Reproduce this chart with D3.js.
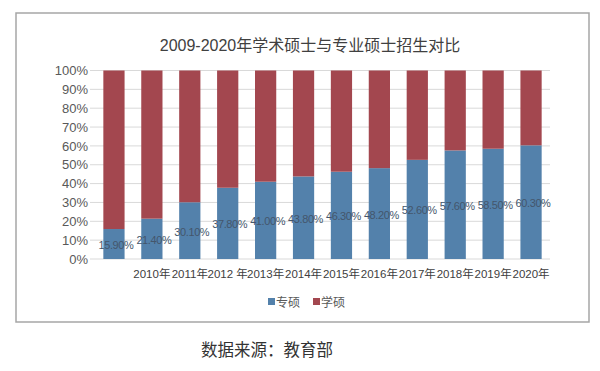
<!DOCTYPE html>
<html>
<head>
<meta charset="utf-8">
<script src="https://cdn.jsdelivr.net/npm/d3@7"></script>
<style>
  body { margin: 0; background: #fff; }
  text { font-family: "Liberation Sans", "Noto Sans CJK SC", sans-serif; }
</style>
</head>
<body>
<script>
// categories (2009 has no axis label in the original)
const years = ["2009", "2010", "2011", "2012", "2013", "2014", "2015", "2016", "2017", "2018", "2019", "2020"];
const tickLabels = ["", "2010年", "2011年", "2012 年", "2013年", "2014年", "2015年", "2016年", "2017年", "2018年", "2019年", "2020年"];
// share of professional masters (专硕), in %
const zhuanshuo = [15.9, 21.4, 30.1, 37.8, 41.0, 43.8, 46.3, 48.2, 52.6, 57.6, 58.5, 60.3];
// share of academic masters (学硕), in %
const xueshuo = zhuanshuo.map(v => 100 - v);
const yTicks = [0, 10, 20, 30, 40, 50, 60, 70, 80, 90, 100];
const seriesNames = ["专硕", "学硕"];

const width = 600, height = 371;
const colours = ["#5381ab", "#a3474f"];

const svg = d3.select("body").append("svg")
  .attr("width", width)
  .attr("height", height);

// outer frame
svg.append("rect")
  .attr("x", 16).attr("y", 13)
  .attr("width", 573).attr("height", 309)
  .attr("fill", "none")
  .attr("stroke", "#a6a6a6")
  .attr("stroke-width", 1.5);

// title
svg.append("text")
  .attr("x", 310).attr("y", 51)
  .attr("text-anchor", "middle")
  .attr("font-size", 16)
  .attr("fill", "#404040")
  .text("2009-2020年学术硕士与专业硕士招生对比");

const xScale = d3.scaleBand()
  .domain(years)
  .range([95, 550])
  .paddingInner(0.44)
  .paddingOuter(0.22);

const yScale = d3.scaleLinear()
  .domain([0, 100])
  .range([259, 70.5]);

// gridlines
svg.append("g")
  .selectAll("line")
  .data(yTicks)
  .enter()
  .append("line")
    .attr("x1", 90).attr("x2", 550)
    .attr("y1", d => yScale(d)).attr("y2", d => yScale(d))
    .attr("stroke", "#d9d9d9")
    .attr("stroke-width", 1);

// y axis labels
const yAxis = svg.append("g")
  .attr("transform", "translate(95,0)")
  .call(d3.axisLeft(yScale).tickValues(yTicks).tickFormat(d => d + "%").tickSize(0).tickPadding(7));
yAxis.select(".domain").remove();
yAxis.selectAll("text")
  .attr("font-size", 13)
  .attr("fill", "#595959")
  .style("font-family", "Liberation Sans, sans-serif");

// x axis labels
const xAxis = svg.append("g")
  .attr("transform", "translate(0,259)")
  .call(d3.axisBottom(xScale).tickFormat((d, i) => tickLabels[i]).tickSize(0).tickPadding(11));
xAxis.select(".domain").remove();
xAxis.selectAll("text")
  .attr("font-size", 11.5)
  .attr("fill", "#404040")
  .style("font-family", "Liberation Sans, Noto Sans CJK SC, sans-serif");

// stacked bars
const stacked = years.map((y, i) => ({year: y, a: zhuanshuo[i], b: xueshuo[i]}));

svg.append("g")
  .selectAll("rect")
  .data(stacked)
  .enter()
  .append("rect")
    .attr("x", d => xScale(d.year))
    .attr("y", d => yScale(d.a))
    .attr("width", xScale.bandwidth())
    .attr("height", d => yScale(0) - yScale(d.a))
    .attr("fill", colours[0]);

svg.append("g")
  .selectAll("rect")
  .data(stacked)
  .enter()
  .append("rect")
    .attr("x", d => xScale(d.year))
    .attr("y", d => yScale(d.a + d.b))
    .attr("width", xScale.bandwidth())
    .attr("height", d => yScale(d.a) - yScale(d.a + d.b))
    .attr("fill", colours[1]);

// data labels on blue segments
svg.append("g")
  .selectAll("text")
  .data(stacked)
  .enter()
  .append("text")
    .attr("x", d => xScale(d.year) + xScale.bandwidth() / 2 + 2)
    .attr("y", d => yScale(d.a / 2) + 5)
    .attr("text-anchor", "middle")
    .attr("font-size", 11)
    .attr("letter-spacing", -0.4)
    .attr("fill", "#44566b")
    .text(d => d.a.toFixed(2) + "%");

// legend
const legend = svg.append("g");
const legendX = [268, 313];
seriesNames.forEach((name, i) => {
  legend.append("rect")
    .attr("x", legendX[i]).attr("y", 298)
    .attr("width", 7).attr("height", 7)
    .attr("fill", colours[i]);
  legend.append("text")
    .attr("x", legendX[i] + 8).attr("y", 306.5)
    .attr("font-size", 12)
    .attr("fill", "#595959")
    .text(name);
});

// source note
svg.append("text")
  .attr("x", 201).attr("y", 356)
  .attr("font-size", 16.5)
  .attr("fill", "#333")
  .text("数据来源：教育部");
</script>
</body>
</html>
